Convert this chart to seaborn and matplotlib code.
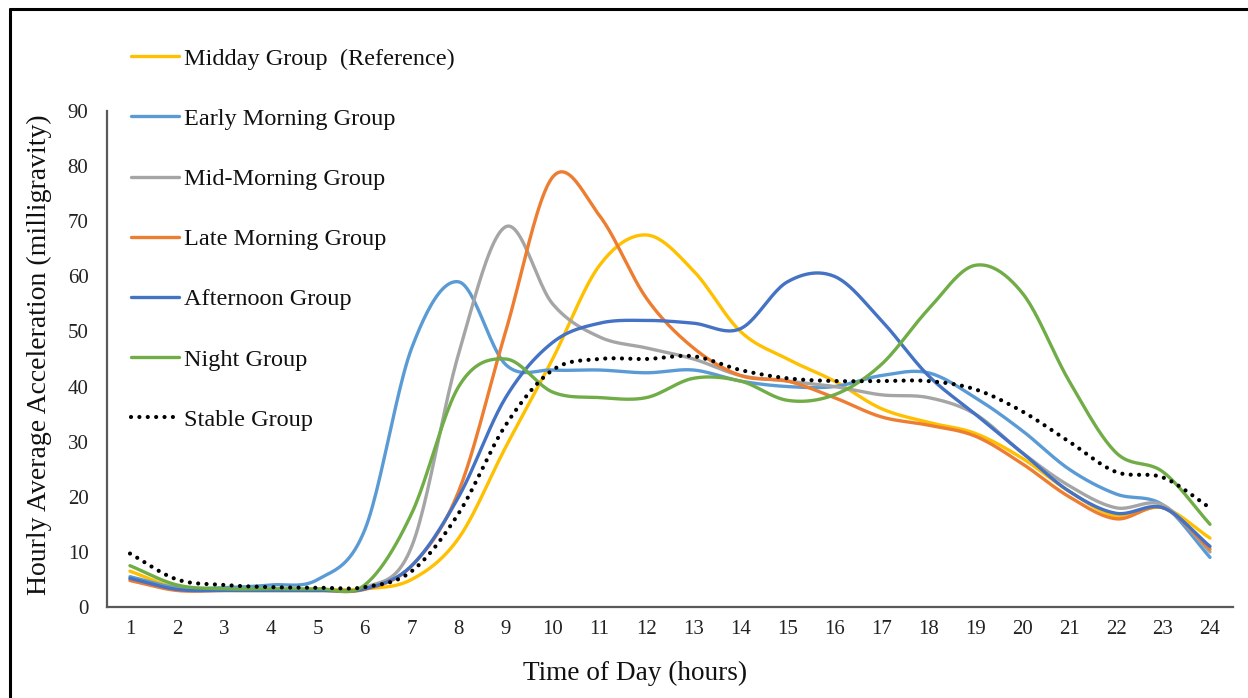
import numpy as np
import pandas as pd
import matplotlib
matplotlib.use("Agg")
import matplotlib.pyplot as plt
import seaborn as sns
from matplotlib.lines import Line2D

hours = list(range(1, 25))
midday = [6.5, 3.5, 3.2, 3.2, 3.2, 3.3, 5.0, 12.5, 29, 45, 62, 67.5, 61, 50, 45, 41, 36, 33.5, 31.5, 27, 21, 16.5, 18, 12.5]
early_morning = [5.5, 3.5, 3.5, 4.0, 5.0, 14, 47, 59, 44, 43, 43, 42.5, 43, 41, 40, 40, 42, 42.5, 38, 32, 25, 20.5, 18.5, 9]
mid_morning = [5.0, 3.3, 3.2, 3.2, 3.2, 3.5, 11, 46, 69, 55, 49, 47, 45, 42, 41, 40, 38.5, 38, 35, 28, 22, 18, 18.5, 10]
late_morning = [4.8, 3.0, 3.0, 3.0, 3.0, 3.2, 7.5, 21, 50, 78, 71, 56, 47, 42, 41, 38, 34.5, 33, 31, 26, 20, 16, 18, 10.5]
afternoon = [5.2, 3.2, 3.0, 3.0, 3.0, 3.3, 7.5, 20, 38, 48, 51.5, 52, 51.5, 50.5, 59, 60, 52, 42, 35, 28, 21, 17, 18, 11]
night = [7.5, 4.0, 3.3, 3.3, 3.3, 4.0, 17, 40, 45, 39, 38, 38, 41.5, 41, 37.5, 38.5, 44, 54, 62, 57, 41, 28, 24.5, 15]
stable = [9.7, 5.0, 4.0, 3.6, 3.5, 3.6, 6.5, 17, 33, 43, 45, 45, 45.5, 43, 41.5, 41, 41, 41, 39.5, 35.5, 30, 24.5, 23.5, 18]

names = ["Midday Group  (Reference)", "Early Morning Group", "Mid-Morning Group",
         "Late Morning Group", "Afternoon Group", "Night Group", "Stable Group"]
series = [midday, early_morning, mid_morning, late_morning, afternoon, night, stable]
colors = ["#FFC000", "#5B9BD5", "#A5A5A5", "#ED7D31", "#4472C4", "#70AD47", "#000000"]


def smooth(x, y, n=24):
    """Catmull-Rom smoothing, like Excel's 'smoothed line' rendering."""
    x = np.asarray(x, float)
    y = np.asarray(y, float)
    px = np.concatenate([[2 * x[0] - x[1]], x, [2 * x[-1] - x[-2]]])
    py = np.concatenate([[2 * y[0] - y[1]], y, [2 * y[-1] - y[-2]]])
    xs, ys = [], []
    t = np.linspace(0, 1, n, endpoint=False)
    for i in range(1, len(px) - 2):
        for P, out in ((py[i - 1:i + 3], ys), (px[i - 1:i + 3], xs)):
            a0, a1, a2, a3 = P
            out.append(0.5 * (2 * a1 + (-a0 + a2) * t + (2 * a0 - 5 * a1 + 4 * a2 - a3) * t ** 2
                              + (-a0 + 3 * a1 - 3 * a2 + a3) * t ** 3))
    xs.append([x[-1]])
    ys.append([y[-1]])
    return np.concatenate(xs), np.concatenate(ys)


sns.set_theme(style="white")
plt.rcParams["font.family"] = ["Liberation Serif", "DejaVu Serif"]

W, H = 1248, 698
fig = plt.figure(figsize=(W / 100, H / 100), dpi=100)
ax = fig.add_axes([106.5 / W, (H - 607) / H, 1127 / W, 496 / H])

dot_style = (0, (0.01, 2.0))
handles = []
for name, vals, col in zip(names, series, colors):
    sx, sy = smooth(hours, vals)
    df = pd.DataFrame({"x": sx, "y": sy})
    if name == "Stable Group":
        sns.lineplot(data=df, x="x", y="y", ax=ax, color=col, lw=3.0, sort=False,
                     linestyle=dot_style, dash_capstyle="round")
        handles.append(Line2D([], [], color=col, lw=3.0, linestyle=dot_style,
                              dash_capstyle="round"))
    else:
        sns.lineplot(data=df, x="x", y="y", ax=ax, color=col, lw=2.4, sort=False)
        handles.append(Line2D([], [], color=col, lw=2.4))

ax.set_xlim(0.5, 24.5)
ax.set_ylim(0, 90)
ax.set_xticks(hours)
ax.set_xticklabels([str(h) for h in hours])
ax.set_yticks(range(0, 91, 10))
ax.tick_params(axis="both", length=0, labelsize=15, colors="#222222")
ax.tick_params(axis="x", pad=9)
ax.tick_params(axis="y", pad=13)
for s in ["top", "right"]:
    ax.spines[s].set_visible(False)
for s in ["left", "bottom"]:
    ax.spines[s].set_color("#595959")
    ax.spines[s].set_linewidth(1.6)
ax.grid(False)
ax.set_xlabel("Time of Day (hours)", fontsize=19.6, color="#111111")
ax.xaxis.set_label_coords((635 - 106.5) / 1127, (607 - 661) / 496)
ax.set_ylabel("Hourly Average Acceleration (milligravity)", fontsize=20, color="#111111")
ax.yaxis.set_label_coords((52 - 106.5) / 1127, (607 - 355) / 496)

leg = fig.legend(handles, names, loc="upper left", bbox_to_anchor=(121 / W, 1 - 38 / H),
                 frameon=False, fontsize=17.5, handlelength=2.0, handletextpad=0.18,
                 labelspacing=1.57, borderaxespad=0)
for t in leg.get_texts():
    t.set_color("#111111")

fig.add_artist(Line2D([10 / W, 1], [1 - 9 / H, 1 - 9 / H], color="black", lw=2.2))
fig.add_artist(Line2D([10 / W, 10 / W], [0, 1 - 9 / H], color="black", lw=2.2))

fig.savefig("out.png", dpi=100)
